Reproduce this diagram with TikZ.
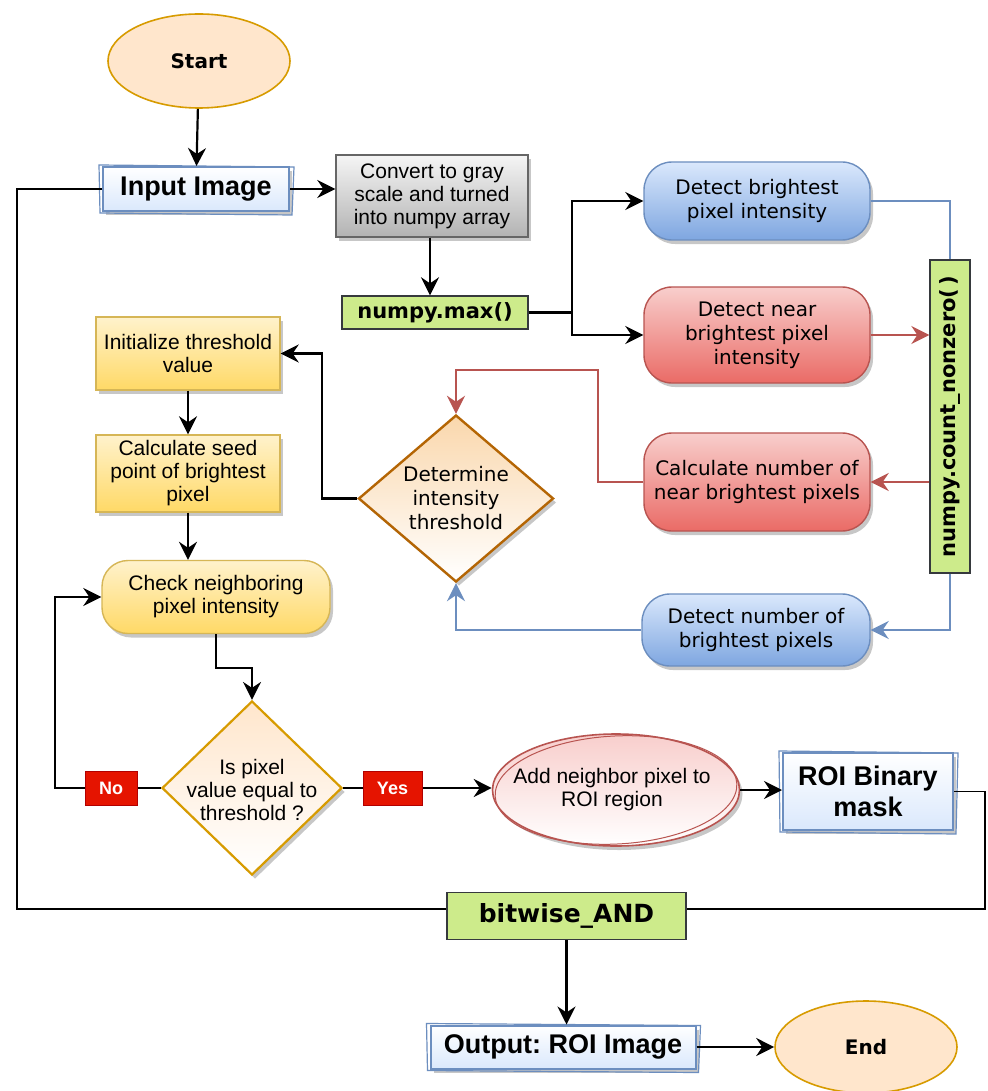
\documentclass[tikz,border=0pt]{standalone}
\usepackage{fontspec}
\setmainfont{Liberation Sans}
\newfontfamily\dvfont{DejaVu Sans}
\usetikzlibrary{shapes.geometric,arrows.meta,shadows,calc}
\frenchspacing

\definecolor{peachF}{HTML}{FFE6CC}
\definecolor{peachS}{HTML}{D79B00}
\definecolor{greenF}{HTML}{CDEB8B}
\definecolor{greenS}{HTML}{36393D}
\definecolor{blueT}{HTML}{DAE8FC}
\definecolor{blueB}{HTML}{7EA6E0}
\definecolor{blueS}{HTML}{6C8EBF}
\definecolor{redT}{HTML}{F8CECC}
\definecolor{redB}{HTML}{EA6B66}
\definecolor{redS}{HTML}{B85450}
\definecolor{yelT}{HTML}{FFF2CC}
\definecolor{yelB}{HTML}{FFD966}
\definecolor{yelS}{HTML}{D6B656}
\definecolor{grayT}{HTML}{F5F5F5}
\definecolor{grayB}{HTML}{B3B3B3}
\definecolor{grayS}{HTML}{666666}
\definecolor{orT}{HTML}{FAD7AC}
\definecolor{orS}{HTML}{B46504}
\definecolor{tagF}{HTML}{E51400}
\definecolor{tagS}{HTML}{B20000}

\newcommand\setfs[2]{\fontsize{#1}{#2}\selectfont}
\newcommand\sketchover[1]{%
  \draw[sk] ([shift={(-3,-1)}]#1.north west) -- ([shift={(4,1)}]#1.north east)
    -- ([shift={(2,3)}]#1.south east) -- ([shift={(-2,1)}]#1.south west) -- cycle;}

\begin{document}
\begin{tikzpicture}[x=1pt,y=-1pt,
  every node/.style={inner sep=0pt,align=center,text=black},
  shad/.style={drop shadow={shadow xshift=3pt,shadow yshift=-4pt,fill=black,opacity=0.22}},
  tip/.style={-{Stealth[length=18pt,width=18pt,inset=6pt]}},
  arr/.style={draw=black,line width=2.2pt,tip},
  ln/.style={draw=black,line width=1.8pt},
  rarr/.style={draw=redS,line width=2pt,tip},
  bln/.style={draw=blueS,line width=1.6pt},
  barr/.style={draw=blueS,line width=1.6pt,tip},
  terminal/.style={ellipse,draw=peachS,line width=1.6pt,fill=peachF,
    font=\dvfont\bfseries\setfs{20}{24}},
  sketchbox/.style={rectangle,draw=blueS,line width=2pt,top color=white,bottom color=blueT,
    shad,font=\bfseries\setfs{27}{31}},
  sk/.style={draw=blueS,line width=1.2pt},
  graybox/.style={rectangle,draw=grayS,line width=1.4pt,top color=grayT,bottom color=grayB,
    shad,font=\setfs{21}{23}},
  greenbox/.style={rectangle,draw=greenS,line width=1.4pt,fill=greenF,
    font=\dvfont\bfseries\setfs{21}{24}},
  bluepill/.style={rectangle,rounded corners=28pt,draw=blueS,line width=1.4pt,
    top color=blueT,bottom color=blueB,shad,font=\dvfont\setfs{20}{24}},
  redpill/.style={rectangle,rounded corners=28pt,draw=redS,line width=1.4pt,
    top color=redT,bottom color=redB,shad,font=\dvfont\setfs{20}{24}},
  yelbox/.style={rectangle,draw=yelS,line width=1.4pt,top color=yelT,bottom color=yelB,
    shad,font=\setfs{21}{23}},
  yelpill/.style={yelbox,rounded corners=26pt},
  tag/.style={rectangle,draw=tagS,line width=0.8pt,fill=tagF,text=white,
    font=\bfseries\setfs{18}{20}},
]
\useasboundingbox (0,0) rectangle (987,1091);
\fill[white] (0,0) rectangle (987,1091);

% ---------- nodes ----------
\node[terminal,minimum width=182,minimum height=94] (start) at (199,61) {Start};
\node[sketchbox,minimum width=186,minimum height=44] (input) at (196,189) {Input Image};
\sketchover{input}
\node[graybox,minimum width=192,minimum height=82] (convert) at (432,196)
  {Convert to gray\\scale and turned\\into numpy array};
\node[greenbox,minimum width=186,minimum height=33] (nmax) at (435,312.5) {numpy.max()};

\node[bluepill,minimum width=226,minimum height=78] (blue1) at (757,201)
  {Detect brightest\\pixel intensity};
\node[redpill,minimum width=226,minimum height=96] (red1) at (757,335)
  {Detect near\\brightest pixel\\intensity};
\node[redpill,minimum width=226,minimum height=98] (red2) at (757,482)
  {Calculate number of\\near brightest pixels};
\node[bluepill,minimum width=228,minimum height=72] (blue2) at (756,630)
  {Detect number of\\brightest pixels};
\node[greenbox,minimum width=40,minimum height=313] (count) at (950,416.5)
  {\rotatebox{90}{numpy.count\_nonzero(\,)}};

\node[diamond,draw=orS,line width=2.4pt,top color=orT,bottom color=white,shad,
  minimum width=195,minimum height=167] (d1) at (456,498.5) {};
\node[font=\dvfont\setfs{20}{24}] (d1txt) at (456,498) {Determine\\intensity\\threshold};

\node[yelbox,minimum width=184,minimum height=73] (init) at (188,353.5)
  {Initialize threshold\\value};
\node[yelbox,minimum width=184,minimum height=77] (calc) at (188,473.5)
  {Calculate seed\\point of brightest\\pixel};
\node[yelpill,minimum width=228,minimum height=73] (check) at (216,597)
  {Check neighboring\\pixel intensity};

\node[diamond,draw=peachS,line width=2.2pt,top color=peachF,bottom color=white,shad,
  minimum width=180,minimum height=174] (d2) at (252,788) {};
\node[font=\setfs{21}{23}] (d2txt) at (252,790) {Is pixel\\value equal to\\threshold ?};

% neighbour ellipse with a hand-drawn double outline
\node[ellipse,draw=redS,line width=1.6pt,top color=redT,bottom color=white,shad,
  minimum width=247,minimum height=112] (add) at (616,790) {};
\draw[redS,line width=1pt] (add.center) ellipse [x radius=121,y radius=54,rotate=3];
\node[font=\setfs{21}{23}] (addtxt) at (612,790) {Add neighbor pixel to\\ROI region};

\node[sketchbox,minimum width=170,minimum height=77] (roi) at (868,791.5)
  {ROI Binary\\mask};
\sketchover{roi}

\node[greenbox,minimum width=239,minimum height=47,font=\dvfont\bfseries\setfs{25}{28}]
  (bitwise) at (566.5,916) {bitwise\_AND};
\node[sketchbox,minimum width=265,minimum height=43] (output) at (563,1047)
  {Output: ROI Image};
\sketchover{output}
\node[terminal,minimum width=182,minimum height=92] (end) at (866,1047) {End};

% ---------- connectors ----------
\draw[arr] (start) -- (input);
\draw[arr] (input.east) -- (input.east -| convert.west);
\draw[ln] (input.west) -- (17,189) -- (17,909) -- ([yshift=7pt]bitwise.west);
\draw[arr] (convert.south -| 430,0) -- (nmax.north -| 430,0);
\draw[arr] (nmax.east) -- (572,312.5) |- (blue1.west);
\draw[arr] (nmax.east) -- (572,312.5) |- (red1.west);
\draw[bln] (blue1.east) -| (count.north);
\draw[rarr] (red1.east) -- (red1.east -| count.west);
\draw[rarr] (red2.east -| count.west) -- (red2.east);
\draw[barr] (count.south) |- (blue2.east);
\draw[rarr] (red2.west) -| (598,370) -| (d1.north);
\draw[barr] (blue2.west) -| (d1.south);
\draw[arr] (d1.west) -- (322,498.5) |- (init.east);
\draw[arr] (init) -- (calc);
\draw[arr] (calc.south) -- (calc.south |- check.north);
\draw[arr] (check.south) -- (216,668) -| (d2.north);
\draw[arr] (d2.west) -- (55,788) |- (check.west);
\draw[arr] (d2.east) -- (d2.east -| add.west);
\draw[arr] (add.east) -- (add.east -| roi.west);
\draw[ln] (roi.east) -- (985,791.5) |- ([yshift=7pt]bitwise.east);
\draw[arr] (bitwise.south) -- (bitwise.south |- output.north);
\draw[arr] (output.east) -- (end.west);

% ---------- branch labels ----------
\node[tag,minimum width=52,minimum height=34] (no) at (111,788) {No};
\node[tag,minimum width=59,minimum height=34] (yes) at (392.5,788) {Yes};
\end{tikzpicture}
\end{document}
